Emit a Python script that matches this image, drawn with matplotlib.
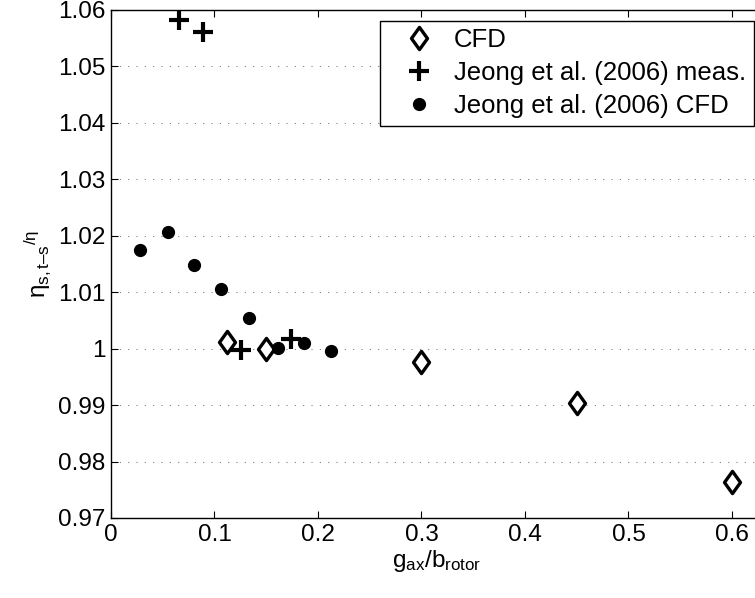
import numpy as np
import matplotlib
matplotlib.use('Agg')
import matplotlib.pyplot as plt
from matplotlib.ticker import FormatStrFormatter
from matplotlib.path import Path

# efficiency ratio vs. axial gap
cfd_x = [0.1125, 0.15, 0.30, 0.45, 0.60]
cfd_y = [1.0011, 1.0000, 0.9976, 0.9904, 0.9764]

meas_x = [0.066, 0.089, 0.126, 0.174]
meas_y = [1.0582, 1.0561, 0.9998, 1.0017]

jcfd_x = [0.028, 0.055, 0.0805, 0.106, 0.133, 0.161, 0.186, 0.213]
jcfd_y = [1.0175, 1.0207, 1.0148, 1.0105, 1.0055, 1.0001, 1.0010, 0.9996]

labels = ['CFD', 'Jeong et al. (2006) meas.', 'Jeong et al. (2006) CFD']

plt.rcParams['font.family'] = ['Liberation Sans', 'DejaVu Sans']
plt.rcParams['mathtext.fontset'] = 'custom'
plt.rcParams['mathtext.rm'] = 'Liberation Sans'
plt.rcParams['mathtext.it'] = 'Liberation Sans'
plt.rcParams['mathtext.default'] = 'regular'

W, H = 755, 598
fig = plt.figure(figsize=(W / 100, H / 100), dpi=100)
ax = fig.add_axes([111 / W, 80 / H, 651 / W, 508 / H])

# slightly wide diamond like the matlab one
diamond = Path([(0, 1), (0.72, 0), (0, -1), (-0.72, 0), (0, 1)],
               [Path.MOVETO, Path.LINETO, Path.LINETO, Path.LINETO, Path.CLOSEPOLY])

ax.plot(cfd_x, cfd_y, linestyle='none', marker=diamond, markersize=16,
        markerfacecolor='white', markeredgecolor='black', markeredgewidth=2.4,
        label=labels[0])
ax.plot(meas_x, meas_y, linestyle='none', marker='+', markersize=14,
        markeredgecolor='black', markeredgewidth=3.0, label=labels[1])
ax.plot(jcfd_x, jcfd_y, linestyle='none', marker='o', markersize=8.5,
        color='black', label=labels[2])

ax.set_xlim(0, 0.629)
ax.set_ylim(0.97, 1.06)
ax.set_xticks(np.arange(0, 0.61, 0.1))
ax.set_yticks(np.arange(0.97, 1.0601, 0.01))
ax.xaxis.set_major_formatter(FormatStrFormatter('%g'))
ax.yaxis.set_major_formatter(FormatStrFormatter('%g'))
ax.tick_params(direction='in', length=5, width=0.8, labelsize=17.5,
               top=True, right=False, pad=4)

ax.yaxis.grid(True, color='0.45', linestyle=(0, (1, 7)), linewidth=0.75)
ax.xaxis.grid(False)
for s in ax.spines.values():
    s.set_linewidth(1.0)

ax.set_xlabel(r'g$_{ax}$/b$_{rotor}$', fontsize=17.5, labelpad=2)
ax.set_ylabel('$\\eta_{s,t\u2013s}{}^{/\\eta}$', fontsize=17.5, labelpad=4)

leg = ax.legend(loc='upper right', bbox_to_anchor=(754 / W, 1 - 20.7 / H),
                bbox_transform=fig.transFigure, borderaxespad=0,
                fontsize=18.5, frameon=True, fancybox=False, framealpha=1,
                edgecolor='black', borderpad=0.3, handlelength=2.44,
                handletextpad=0.14, labelspacing=0.34, numpoints=1)
leg.get_frame().set_linewidth(1.0)

fig.savefig('out.png', dpi=100)
